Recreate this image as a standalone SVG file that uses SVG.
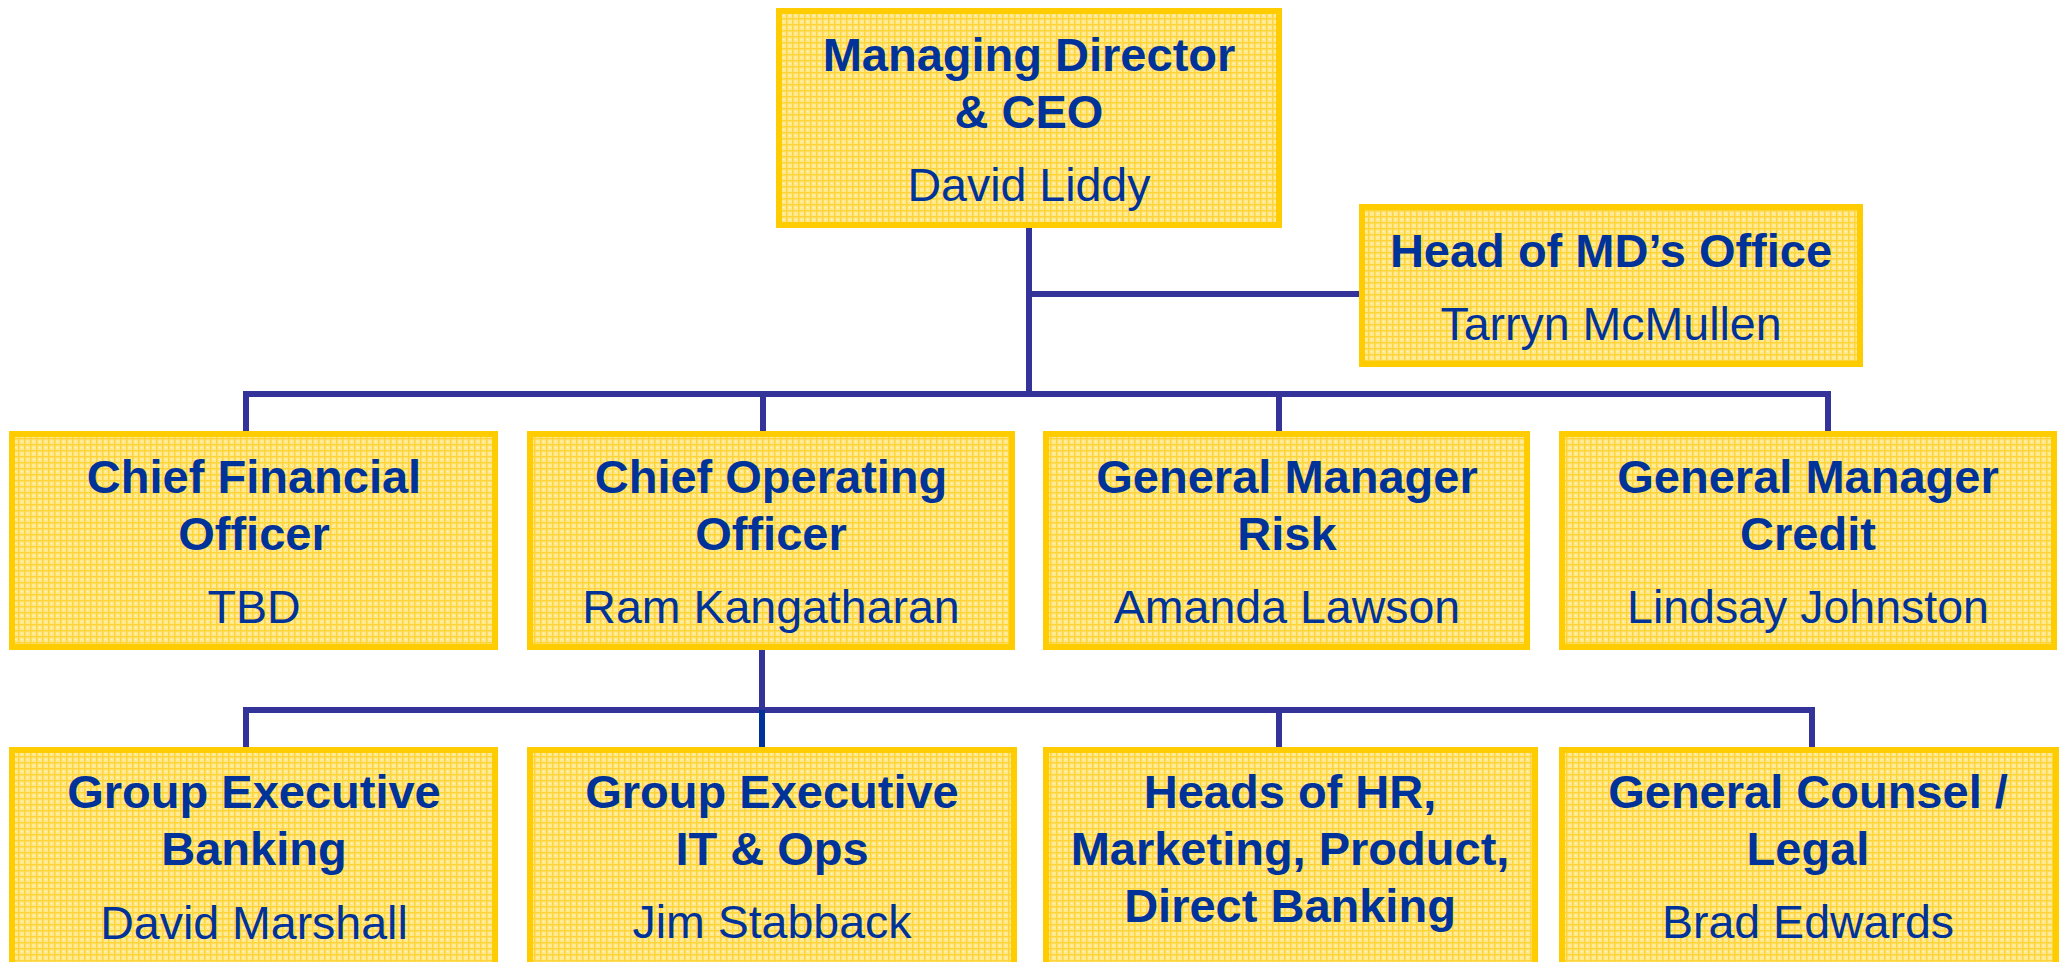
<svg xmlns="http://www.w3.org/2000/svg" width="2060" height="962" viewBox="0 0 2060 962">
  <defs>
    <!-- fine gold grid used as the box fill -->
    <pattern id="grid" width="6" height="6" patternUnits="userSpaceOnUse">
      <rect width="6" height="6" fill="#FFE98F"/>
      <path d="M0 0.75H6M0.75 0V6" stroke="#FFD43A" stroke-width="1.5" fill="none"/>
      <rect x="3" y="3" width="1" height="1" fill="#FFF6CC"/>
    </pattern>
    <style>
      .box { fill: url(#grid); stroke: #FFCC00; stroke-width: 6; }
      .title { font-family: "Liberation Sans", Arial, sans-serif; font-weight: bold; font-size: 47px; fill: #003399; text-anchor: middle; }
      .name { font-family: "Liberation Sans", Arial, sans-serif; font-size: 46.5px; fill: #003399; text-anchor: middle; }
      .link { stroke: #333399; stroke-width: 6; fill: none; stroke-linecap: butt; }
    </style>
  </defs>

  <rect width="2060" height="962" fill="#FFFFFF"/>

  <g id="connectors">
    <path class="link" d="M1029 225V394"/>
    <path class="link" d="M1029 294H1362"/>
    <path class="link" d="M243 394H1831"/>
    <path class="link" d="M246 394V434M763 394V434M1279 394V434M1828 394V434"/>
    <path class="link" d="M762 647V710"/>
    <path class="link" d="M243 710H1815"/>
    <path class="link" d="M246 710V750M1279 710V750M1812 710V750"/>
    <path class="link" d="M762 710V750" style="stroke:#003399"/>
  </g>

  <g id="md-ceo">
    <rect class="box" x="779" y="11" width="500" height="214"/>
    <text class="title" x="1029" y="71">Managing Director</text>
    <text class="title" x="1029" y="128">&amp; CEO</text>
    <text class="name" x="1029" y="201">David Liddy</text>
  </g>

  <g id="md-office">
    <rect class="box" x="1362" y="207" width="498" height="157"/>
    <text class="title" x="1611" y="267">Head of MD’s Office</text>
    <text class="name" x="1611" y="340">Tarryn McMullen</text>
  </g>

  <g id="cfo">
    <rect class="box" x="12" y="434" width="483" height="213"/>
    <text class="title" x="254" y="493">Chief Financial</text>
    <text class="title" x="254" y="550">Officer</text>
    <text class="name" x="254" y="623">TBD</text>
  </g>

  <g id="coo">
    <rect class="box" x="530" y="434" width="482" height="213"/>
    <text class="title" x="771" y="493">Chief Operating</text>
    <text class="title" x="771" y="550">Officer</text>
    <text class="name" x="771" y="623">Ram Kangatharan</text>
  </g>

  <g id="gm-risk">
    <rect class="box" x="1046" y="434" width="481" height="213"/>
    <text class="title" x="1287" y="493">General Manager</text>
    <text class="title" x="1287" y="550">Risk</text>
    <text class="name" x="1287" y="623">Amanda Lawson</text>
  </g>

  <g id="gm-credit">
    <rect class="box" x="1562" y="434" width="492" height="213"/>
    <text class="title" x="1808" y="493">General Manager</text>
    <text class="title" x="1808" y="550">Credit</text>
    <text class="name" x="1808" y="623">Lindsay Johnston</text>
  </g>

  <g id="ge-banking">
    <rect class="box" x="12" y="750" width="483" height="230"/>
    <text class="title" x="254" y="808">Group Executive</text>
    <text class="title" x="254" y="865">Banking</text>
    <text class="name" x="254" y="939">David Marshall</text>
  </g>

  <g id="ge-it-ops">
    <rect class="box" x="530" y="750" width="484" height="230"/>
    <text class="title" x="772" y="808">Group Executive</text>
    <text class="title" x="772" y="865">IT &amp; Ops</text>
    <text class="name" x="772" y="938">Jim Stabback</text>
  </g>

  <g id="heads">
    <rect class="box" x="1046" y="750" width="489" height="230"/>
    <text class="title" x="1290" y="808">Heads of HR,</text>
    <text class="title" x="1290" y="865">Marketing, Product,</text>
    <text class="title" x="1290" y="922">Direct Banking</text>
  </g>

  <g id="general-counsel">
    <rect class="box" x="1562" y="750" width="494" height="230"/>
    <text class="title" x="1808" y="808">General Counsel /</text>
    <text class="title" x="1808" y="865">Legal</text>
    <text class="name" x="1808" y="938">Brad Edwards</text>
  </g>
</svg>
